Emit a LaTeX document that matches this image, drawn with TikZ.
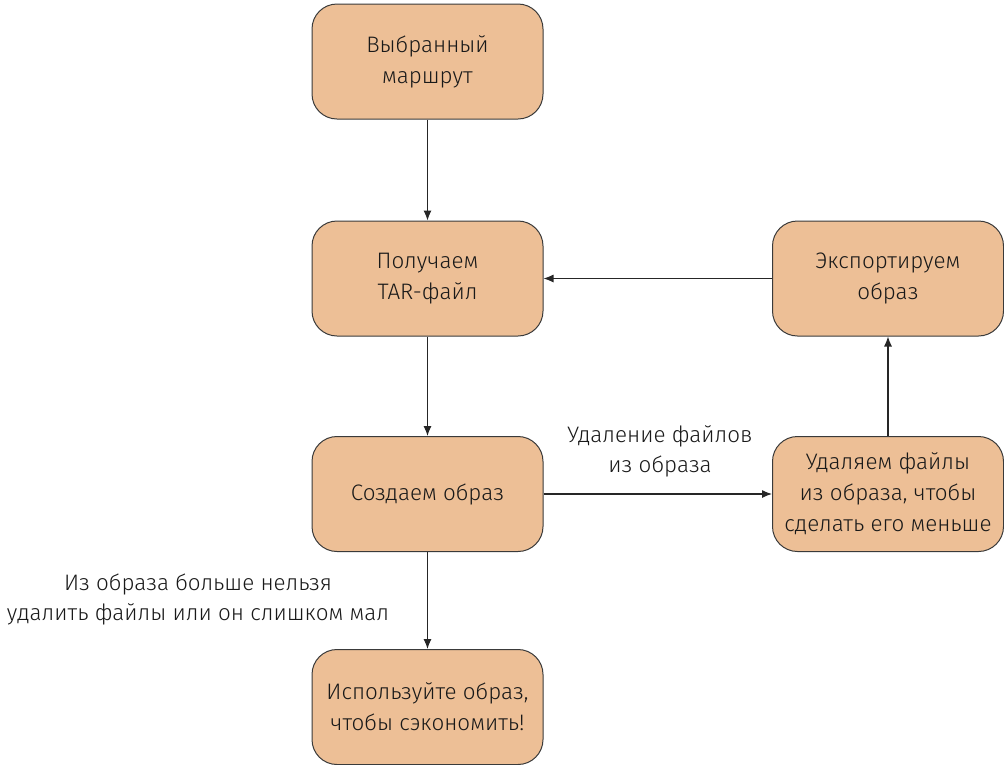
\documentclass[tikz,border=0pt]{standalone}
\usepackage{fontspec}
\setmainfont{Fira Sans Light}[BoldFont=Fira Sans]
\usetikzlibrary{arrows.meta}
\definecolor{boxfill}{HTML}{EDBF96}
\definecolor{boxline}{HTML}{3A3A3A}
\tikzset{
  stepbox/.style={draw=boxline,fill=boxfill,rounded corners=25pt,line width=1pt,
    minimum width=231pt,minimum height=115pt,align=center,
    font=\fontsize{22.4}{31}\selectfont,text=black!90},
  flow/.style={-{Latex[length=10pt,width=8pt]},line width=1.1pt,draw=black!85},
  note/.style={align=center,font=\fontsize{22.4}{30}\selectfont,text=black!90}
}
\begin{document}
\begin{tikzpicture}[x=1pt,y=-1pt]
\useasboundingbox (0,0) rectangle (1004,764);
\node[stepbox] (route) at (427.5,61.5) {Выбранный\\маршрут};
\node[stepbox] (tar) at (427.5,278.5) {Получаем\\TAR-файл};
\node[stepbox] (build) at (427.5,494) {Создаем образ};
\node[stepbox] (use) at (427.5,707) {Используйте образ,\\чтобы сэкономить!};
\node[stepbox] (export) at (888,278.5) {Экспортируем\\образ};
\node[stepbox] (strip) at (888,494) {Удаляем файлы\\из образа, чтобы\\сделать его меньше};
\draw[flow] (route) -- (tar);
\draw[flow] (tar) -- (build);
\draw[flow] (build) -- (use);
\draw[flow] (build) -- (strip);
\draw[flow] (strip) -- (export);
\draw[flow] (export) -- (tar);
\node[note] (striplbl) at (660,451) {Удаление файлов\\из образа};
\node[note] (donelbl) at (198,599) {Из образа больше нельзя\\удалить файлы или он слишком мал};
\end{tikzpicture}
\end{document}
